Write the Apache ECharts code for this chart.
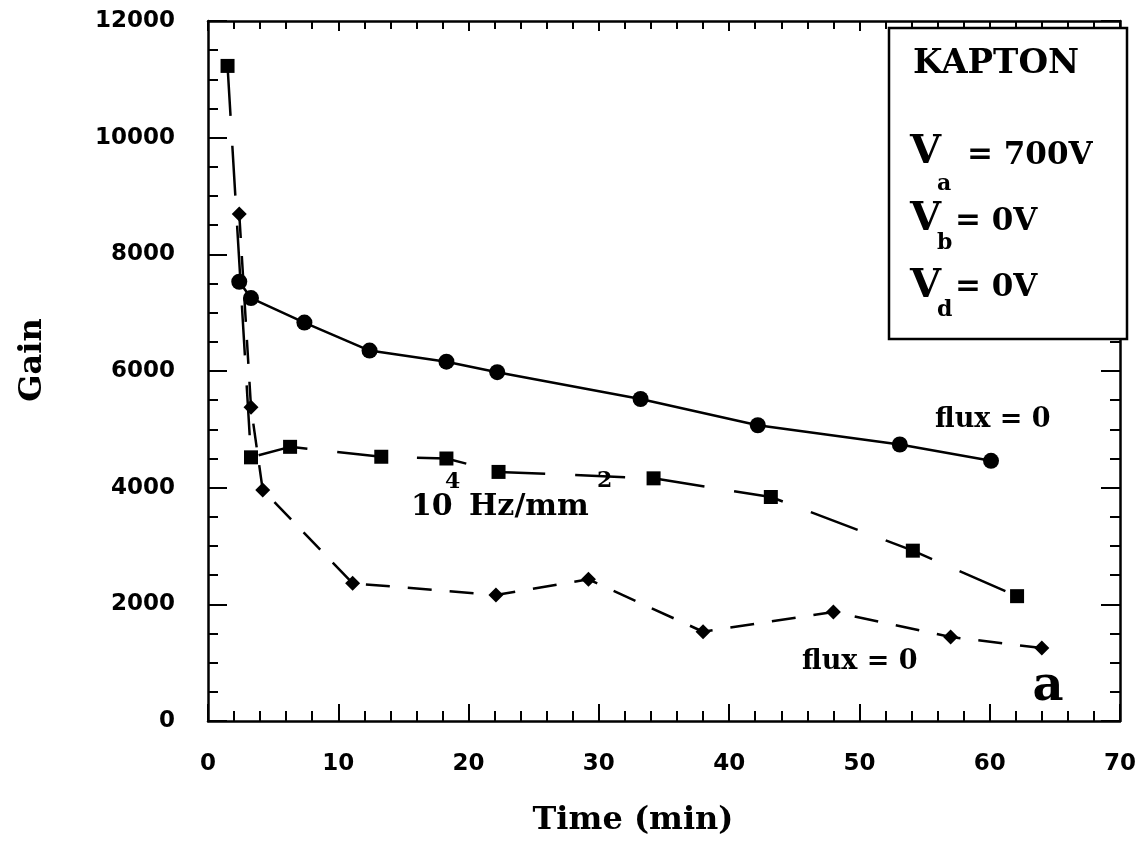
<!DOCTYPE html>
<html><head><meta charset="utf-8">
<script src="https://cdn.jsdelivr.net/npm/echarts@6/dist/echarts.min.js"></script>
<style>html,body{margin:0;padding:0;background:#fff}#c{width:1139px;height:848px}</style>
</head><body><div id="c"></div>
<script>
// Tick labels
const xTicks = [0, 10, 20, 30, 40, 50, 60, 70];
const yTicks = [0, 2000, 4000, 6000, 8000, 10000, 12000];

// flux = 0 (circles, solid)
const circleTime = [2.4, 3.3, 7.4, 12.4, 18.3, 22.2, 33.2, 42.2, 53.1, 60.1];
const circleGain = [7530, 7250, 6830, 6350, 6160, 5980, 5520, 5070, 4740, 4460];

// 10^4 Hz/mm^2 (squares, long dash)
const squareTime = [1.5, 3.3, 6.3, 13.3, 18.3, 22.3, 34.2, 43.2, 54.1, 62.1];
const squareGain = [11230, 4520, 4700, 4530, 4500, 4270, 4160, 3840, 2920, 2140];

// flux = 0 (diamonds, short dash)
const diamondTime = [2.4, 3.3, 4.2, 11.1, 22.1, 29.2, 38.0, 48.0, 57.0, 64.0];
const diamondGain = [8690, 5380, 3960, 2360, 2160, 2430, 1530, 1870, 1440, 1250];

const pairs = (xs, ys) => xs.map((x, i) => [x, ys[i]]);

const lineCol = '#000';
const tickLabel = {fontFamily: 'DejaVu Sans', fontWeight: 'bold', fontSize: 23, color: '#000',
  formatter: v => String(v)};

function xAx(pos, showLabel) {
  return {
    type: 'value', position: pos,
    min: xTicks[0], max: xTicks[xTicks.length - 1], interval: xTicks[1] - xTicks[0],
    axisLine: {show: true, onZero: false, lineStyle: {color: lineCol, width: 2.5}},
    axisTick: {show: true, inside: true, length: pos === 'bottom' ? 17 : 10, lineStyle: {color: lineCol, width: 2}},
    minorTick: {show: true, splitNumber: 5, length: pos === 'bottom' ? 10 : 8, lineStyle: {color: lineCol, width: 2}},
    splitLine: {show: false}, minorSplitLine: {show: false},
    axisLabel: Object.assign({show: showLabel, margin: 32}, tickLabel)
  };
}
function yAx(pos, showLabel) {
  return {
    type: 'value', position: pos,
    min: yTicks[0], max: yTicks[yTicks.length - 1], interval: yTicks[1] - yTicks[0],
    axisLine: {show: true, onZero: false, lineStyle: {color: lineCol, width: 2.5}},
    axisTick: {show: true, inside: true, length: 19, lineStyle: {color: lineCol, width: 2}},
    minorTick: {show: true, splitNumber: 4, length: 10, lineStyle: {color: lineCol, width: 2}},
    splitLine: {show: false}, minorSplitLine: {show: false},
    axisLabel: Object.assign({show: showLabel, margin: 33}, tickLabel)
  };
}

const serif = '"DejaVu Serif", "Liberation Serif", serif';
function txt(text, x, y, size, align) {
  return {type: 'text', x: x, y: y, z: 100,
    style: {text: text, font: 'bold ' + size + 'px ' + serif, fill: '#000',
      align: align || 'left', verticalAlign: 'middle'}};
}

const chart = echarts.init(document.getElementById('c'));
chart.setOption({
  animation: false,
  backgroundColor: '#fff',
  grid: {left: 208, right: 18, top: 21, bottom: 127, containLabel: false},
  xAxis: [xAx('bottom', true), xAx('top', false)],
  yAxis: [yAx('left', true), yAx('right', false)],
  series: [
    {type: 'line', xAxisIndex: 0, yAxisIndex: 0, data: pairs(circleTime, circleGain),
      symbol: 'circle', symbolSize: 16, itemStyle: {color: '#000'},
      lineStyle: {color: '#000', width: 2.5, type: 'solid'}},
    {type: 'line', xAxisIndex: 0, yAxisIndex: 0, data: pairs(squareTime, squareGain),
      symbol: 'rect', symbolSize: 14, itemStyle: {color: '#000'},
      lineStyle: {color: '#000', width: 2.5, type: [50, 30]}},
    {type: 'line', xAxisIndex: 0, yAxisIndex: 0, data: pairs(diamondTime, diamondGain),
      symbol: 'diamond', symbolSize: 15, itemStyle: {color: '#000'},
      lineStyle: {color: '#000', width: 2.5, type: [24, 18]}}
  ],
  graphic: [
    {type: 'rect', z: 90, shape: {x: 889, y: 28, width: 238, height: 311},
      style: {fill: '#fff', stroke: '#000', lineWidth: 2.5}},
    txt('KAPTON', 913, 64, 34),
    txt('V', 910, 153, 40), txt('a', 937, 184, 22), txt('= 700V', 967, 156, 31),
    txt('V', 910, 220, 40), txt('b', 937, 243, 22), txt('= 0V', 955, 222, 31),
    txt('V', 910, 287, 40), txt('d', 937, 310, 22), txt('= 0V', 955, 288, 31),
    txt('flux = 0', 935, 420, 27),
    txt('10', 411, 507, 30), txt('4', 445, 482, 22), txt('Hz/mm', 469, 507, 30), txt('2', 597, 481, 22),
    txt('flux = 0', 802, 662, 27),
    txt('a', 1048, 688, 48, 'center'),
    txt('Time (min)', 633, 821, 32, 'center'),
    {type: 'text', x: 33, y: 360, rotation: Math.PI / 2, z: 100,
      style: {text: 'Gain', font: 'bold 32px ' + serif, fill: '#000', align: 'center', verticalAlign: 'middle'}}
  ]
});
</script></body></html>
